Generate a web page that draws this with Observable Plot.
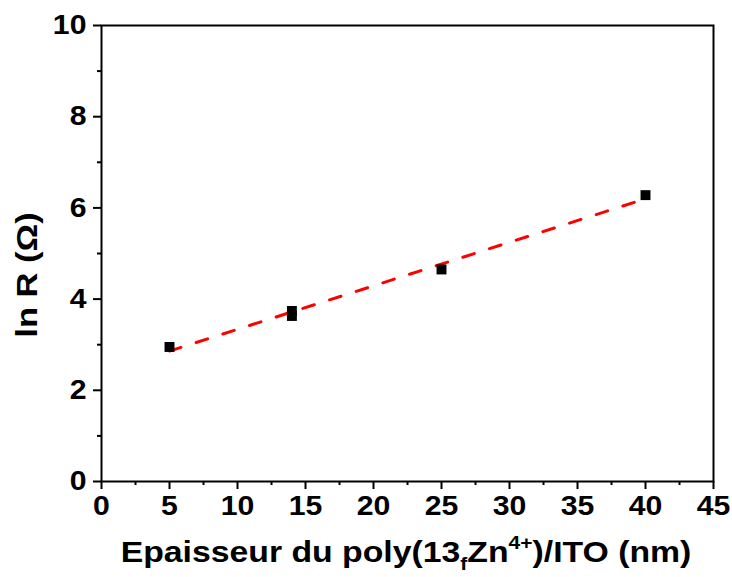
<!DOCTYPE html>
<html><head><meta charset="utf-8">
<script src="https://cdn.jsdelivr.net/npm/d3@7"></script>
<script src="https://cdn.jsdelivr.net/npm/@observablehq/plot@0.6"></script>
<style>body{margin:0;background:#fff}</style>
</head><body><div id="chart"></div>
<script>
const thickness = [5, 14, 14, 25, 40];
const lnR = [2.95, 3.74, 3.63, 4.65, 6.28];
const fitX = [5, 40];
const fitY = [2.86, 6.2];
const xTicks = [0, 5, 10, 15, 20, 25, 30, 35, 40, 45];
const xMinorTicks = [2.5, 7.5, 12.5, 17.5, 22.5, 27.5, 32.5, 37.5, 42.5];
const yTicks = [0, 2, 4, 6, 8, 10];
const yMinorTicks = [1, 3, 5, 7, 9];

const points = thickness.map((x, i) => ({x, y: lnR[i]}));
const fit = fitX.map((x, i) => ({x, y: fitY[i]}));
const font = "Liberation Sans, Arial, sans-serif";

const chart = Plot.plot({
  width: 732, height: 577,
  marginLeft: 101, marginRight: 19, marginTop: 25, marginBottom: 96,
  style: {fontFamily: font, background: "white", color: "black"},
  x: {domain: [0, 45]},
  y: {domain: [0, 10]},
  marks: [
    Plot.frame({stroke: "black", strokeWidth: 2}),
    Plot.axisX(xTicks, {tickSize: 8, tickPadding: 6, strokeWidth: 2, fontSize: 27, fontWeight: "bold", label: null, className: "tickx"}),
    Plot.axisX(xMinorTicks, {tickSize: 4, text: null, strokeWidth: 2, label: null}),
    Plot.axisY(yTicks, {tickSize: 8, tickPadding: 7, strokeWidth: 2, fontSize: 27, fontWeight: "bold", label: null}),
    Plot.axisY(yMinorTicks, {tickSize: 4, text: null, strokeWidth: 2, label: null}),
    Plot.line(fit, {x: "x", y: "y", stroke: "#ff0000", strokeWidth: 3, strokeDasharray: "12,16"}),
    Plot.dot(points, {x: "x", y: "y", symbol: "square", fill: "black", r: 5.6})
  ]
});
document.getElementById("chart").appendChild(chart);

const svg = d3.select(chart);
// slightly wider glyphs, as in the reference
svg.selectAll("g[aria-label='x-axis tick label'] text, g[aria-label='y-axis tick label'] text")
  .each(function() {
    const t = this.getAttribute("transform") || "";
    this.setAttribute("transform", t + " scale(1.12,1)");
  });

const xl = svg.append("text")
  .attr("transform", "translate(406,562) scale(1.165,1)")
  .attr("text-anchor", "middle")
  .attr("font-family", font).attr("font-weight", "bold").attr("font-size", 29)
  .attr("fill", "black");
xl.append("tspan").text("Epaisseur du poly(13");
xl.append("tspan").attr("font-size", 18).attr("dy", 8).text("f");
xl.append("tspan").attr("dy", -8).text("Zn");
xl.append("tspan").attr("font-size", 18).attr("dy", -13).text("4+");
xl.append("tspan").attr("dy", 13).text(")/ITO (nm)");

svg.append("text")
  .attr("transform", "translate(37,275) rotate(-90) scale(1.19,1)")
  .attr("text-anchor", "middle")
  .attr("font-family", font).attr("font-weight", "bold").attr("font-size", 29)
  .attr("fill", "black")
  .text("ln R (Ω)");
</script>
</body></html>
